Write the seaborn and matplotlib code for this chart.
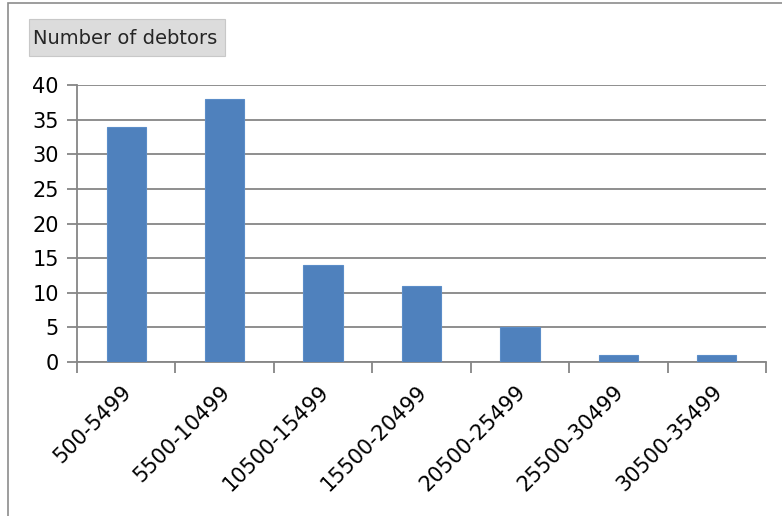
import numpy as np
import seaborn as sns
import matplotlib.pyplot as plt
import matplotlib.transforms as mtransforms
from matplotlib.patches import Rectangle

# Data
ranges = ["500-5499", "5500-10499", "10500-15499", "15500-20499",
          "20500-25499", "25500-30499", "30500-35499"]
debtors = [34, 38, 14, 11, 5, 1, 1]
y_ticks = [0, 5, 10, 15, 20, 25, 30, 35, 40]

sns.set_style("white")
plt.rcParams["font.family"] = ["DejaVu Sans"]

W, H = 782, 516
fig = plt.figure(figsize=(W / 100, H / 100), dpi=100)
ax = fig.add_axes([77 / W, 1 - 362 / H, (766 - 77) / W, (362 - 85) / H])

sns.barplot(x=ranges, y=debtors, color="#4F81BD", width=0.4, saturation=1,
            edgecolor="#5B8DC8", linewidth=0.8, ax=ax, zorder=3)

grid_c = "#868686"
ax.set_ylim(0, 40)
ax.set_xlim(-0.5, len(ranges) - 0.5)
ax.set_yticks(y_ticks)
ax.yaxis.grid(True, color=grid_c, linewidth=1.3, zorder=0)
ax.set_axisbelow(True)
for s in ["top", "right"]:
    ax.spines[s].set_visible(False)
for s in ["left", "bottom"]:
    ax.spines[s].set_color(grid_c)
    ax.spines[s].set_linewidth(1.3)

ax.tick_params(axis="y", which="major", length=7, width=1.3, color=grid_c,
               labelsize=15, labelcolor="black", pad=6, left=True)
ax.set_xticks(np.arange(len(ranges)))
ax.set_xticklabels(ranges, rotation=45, ha="right", rotation_mode="anchor",
                   fontsize=15, color="black")
ax.tick_params(axis="x", which="major", length=0, pad=14)
shift = mtransforms.ScaledTranslation(-5 / 100, 0, fig.dpi_scale_trans)
for lbl in ax.get_xticklabels():
    lbl.set_transform(lbl.get_transform() + shift)
ax.set_xticks(np.arange(len(ranges) + 1) - 0.5, minor=True)
ax.tick_params(axis="x", which="minor", length=8, width=1.3, color=grid_c,
               bottom=True)
ax.set_xlabel("")
ax.set_ylabel("")

# outer chart border
fig.patches.append(Rectangle((8 / W, -0.01), 1.1, 1 - 3 / H + 0.01,
                             transform=fig.transFigure, fill=False,
                             edgecolor="#8C8C8C", linewidth=1.2))

# title box
fig.patches.append(Rectangle((29 / W, 1 - 56 / H), (225 - 29) / W, 37 / H,
                             transform=fig.transFigure, facecolor="#DCDCDC",
                             edgecolor="#C8C8C8", linewidth=0.8))
fig.text(33 / W, 1 - 38 / H, "Number of debtors", fontsize=14,
         color="#262626", va="center", ha="left")

fig.savefig("out.png", dpi=100)
